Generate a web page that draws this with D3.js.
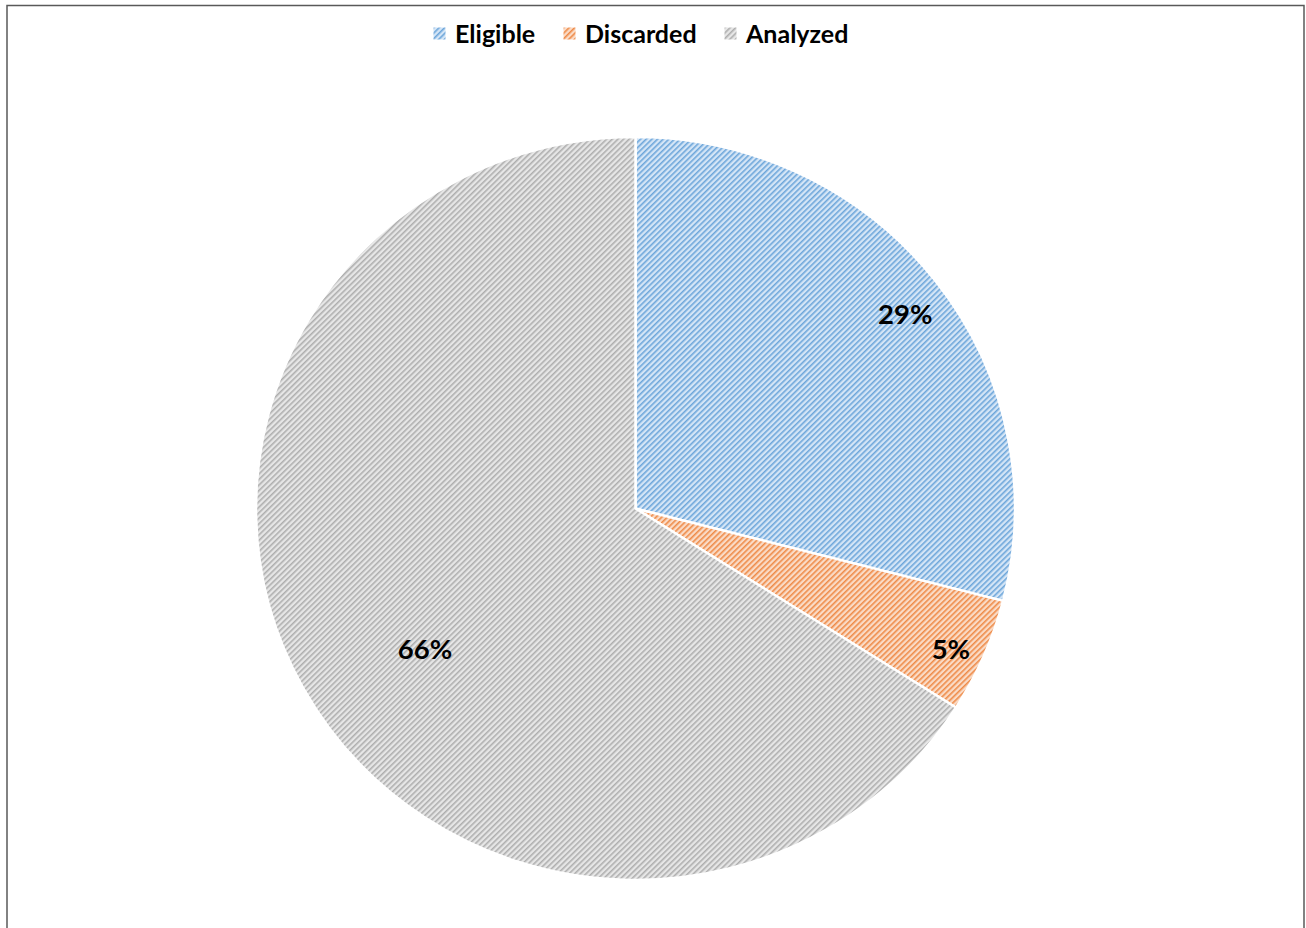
<!DOCTYPE html>
<html>
<head>
<meta charset="utf-8">
<script src="https://cdn.jsdelivr.net/npm/d3@7"></script>
<style>
  html, body { margin: 0; padding: 0; background: #fff; }
  svg { display: block; }
</style>
</head>
<body>
<svg id="chart" width="1306" height="928"></svg>
<script>
// Share of records by stage
const categories = ["Eligible", "Discarded", "Analyzed"];
const values = [29, 5, 66];
const labels = ["29%", "5%", "66%"];

const lineColors = ["#5B9BD5", "#ED7D31", "#A5A5A5"];
const baseColors = ["#D4E5F6", "#FADBC6", "#E6E6E6"];

const W = 1306, H = 928;
const svg = d3.select("#chart");
const defs = svg.append("defs");

// Upward-diagonal hatching, one pattern per series
categories.forEach((c, i) => {
  const p = defs.append("pattern")
    .attr("id", "hatch" + i)
    .attr("patternUnits", "userSpaceOnUse")
    .attr("width", 4).attr("height", 4)
    .attr("patternTransform", "rotate(45)");
  p.append("rect").attr("width", 4).attr("height", 4).attr("fill", baseColors[i]);
  p.append("rect").attr("x", 0).attr("width", 1.6).attr("height", 4)
    .attr("fill", lineColors[i]).attr("opacity", 0.85);
});

// Frame
svg.append("rect")
  .attr("x", 7).attr("y", 5.5).attr("width", 1297).attr("height", 940)
  .attr("fill", "none").attr("stroke", "#595959").attr("stroke-width", 1.5);

// Pie
const cx = 635.5, cy = 508.5, R = 379.5, yScale = 0.979;
const pie = d3.pie().sort(null).value(d => d);
const arcs = pie(values);
const arc = d3.arc().innerRadius(0).outerRadius(R);

const g = svg.append("g")
  .attr("transform", `translate(${cx},${cy}) scale(1,${yScale})`);

g.selectAll("path.slice")
  .data(arcs)
  .join("path")
  .attr("class", "slice")
  .attr("d", arc)
  .attr("fill", (d, i) => `url(#hatch${i})`)
  .attr("stroke", "#fff")
  .attr("stroke-width", 2.5)
  .attr("stroke-linejoin", "round");

// Data labels, placed along each slice's bisector
const labelRadius = [0.884, 0.912, 0.67];
const labelShift = [0.023, 0.016, -0.0925];
const lg = svg.append("g").attr("transform", `translate(${cx},${cy})`);
lg.selectAll("text")
  .data(arcs)
  .join("text")
  .attr("transform", (d, i) => {
    const a = (d.startAngle + d.endAngle) / 2 + labelShift[i];
    const r = R * labelRadius[i];
    return `translate(${r * Math.sin(a)},${-r * Math.cos(a) * yScale})`;
  })
  .attr("text-anchor", "middle")
  .attr("dominant-baseline", "central")
  .attr("font-family", "Lato, 'Open Sans', sans-serif")
  .attr("font-weight", "bold")
  .attr("font-size", 27.5)
  .attr("fill", "#000")
  .text((d, i) => labels[i]);

// Legend
const legendX = [433, 563, 724];
const legend = svg.append("g");
const items = legend.selectAll("g.item")
  .data(categories)
  .join("g")
  .attr("class", "item")
  .attr("transform", (d, i) => `translate(${legendX[i]},27)`);
items.append("rect")
  .attr("width", 13).attr("height", 13)
  .attr("fill", (d, i) => `url(#hatch${i})`)
  .attr("stroke", "#fff").attr("stroke-width", 1);
items.append("text")
  .attr("x", 22).attr("y", 6)
  .attr("dominant-baseline", "central")
  .attr("font-family", "Lato, 'Open Sans', sans-serif")
  .attr("font-weight", "bold")
  .attr("font-size", 25)
  .attr("fill", "#000")
  .text(d => d);
</script>
</body>
</html>
